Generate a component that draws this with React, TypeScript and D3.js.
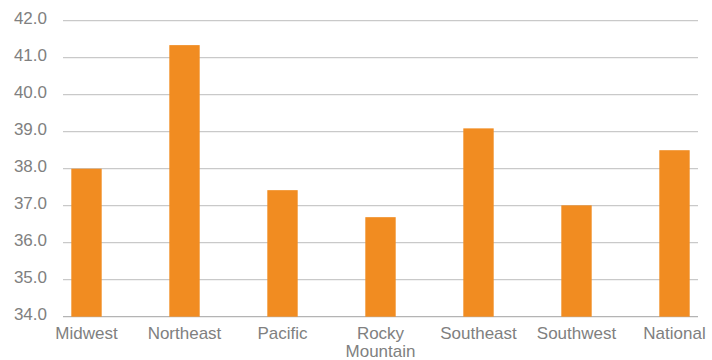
import React from "react";
import * as d3 from "d3";

const categories = ["Midwest", "Northeast", "Pacific", "Rocky\nMountain", "Southeast", "Southwest", "National"];
const values = [38.0, 41.34, 37.42, 36.69, 39.09, 37.01, 38.5];
const yTicks = [34, 35, 36, 37, 38, 39, 40, 41, 42];

export default function App() {
  const W = 712, H = 360;
  const x = d3.scaleBand<string>().domain(categories).range([37.5, 723.5]).paddingInner(0.69).paddingOuter(0.345);
  const y = d3.scaleLinear().domain([34, 42]).range([316.7, 20.7]);
  const gridX0 = 63, gridX1 = 698;
  const font = "'Liberation Sans', Arial, sans-serif";
  return (
    <svg width={W} height={H} style={{ position: "absolute", left: 0, top: 0 }}>
      <rect width={W} height={H} fill="#fff" />
      {yTicks.map((t) => (
        <g key={t}>
          <line x1={gridX0} x2={gridX1} y1={y(t)} y2={y(t)} stroke={t === 34 ? "#b4b4b4" : "#c9c9c9"} strokeWidth={1.3} />
          <text x={47} y={y(t) + 3.5} textAnchor="end" fontFamily={font} fontSize={17} fill="#808080">
            {t.toFixed(1)}
          </text>
        </g>
      ))}
      {categories.map((c, i) => (
        <rect key={c} x={x(c)} y={y(values[i])} width={x.bandwidth()} height={y(34) - y(values[i])} fill="#F18C21" />
      ))}
      {categories.map((c) => (
        <text key={c} x={(x(c) as number) + x.bandwidth() / 2} y={339} textAnchor="middle" fontFamily={font} fontSize={17} fill="#808080">
          {c.split("\n").map((line, j) => (
            <tspan key={j} x={(x(c) as number) + x.bandwidth() / 2} dy={j === 0 ? 0 : 17.5}>{line}</tspan>
          ))}
        </text>
      ))}
    </svg>
  );
}
